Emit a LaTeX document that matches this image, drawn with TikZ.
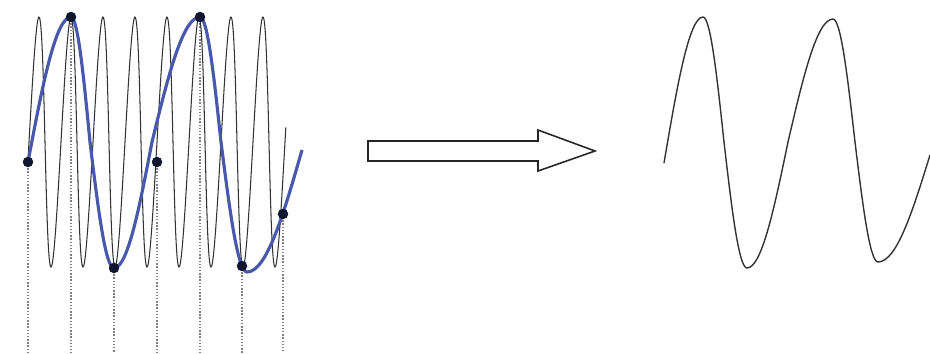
\documentclass[tikz,border=0pt]{standalone}
\definecolor{aliasblue}{RGB}{72,88,170}
\definecolor{dotnavy}{RGB}{16,22,48}

\begin{document}
\begin{tikzpicture}[
  x=0.02cm, y=-0.02cm,
  signal/.style={draw=black!80, line width=0.6pt},
  alias/.style={draw=aliasblue, line width=1.8pt},
  sample/.style={circle, fill=dotnavy, inner sep=0pt, minimum size=2.1mm},
  guide/.style={draw=black!50, densely dotted, line width=0.8pt},
  hollow/.style={draw=black!85, line width=0.9pt, fill=white, line join=miter}
]
  \useasboundingbox (0,0) rectangle (930,353);

  % sampling instants
  \foreach \i/\x/\y in {1/28/162, 2/71/17, 3/114/268, 4/157/162, 5/200/17, 6/242/266, 7/283/214} {
    \coordinate (p\i) at (\x,\y);
    \coordinate (g\i) at (\x,353);
    \draw[guide] (p\i) -- (g\i);
  }

  % fast signal
  \draw[signal] plot[domain=28.2:285.6, samples=500, variable=\u]
    ({\u+2*cos(11.25*(\u-37))}, {142-125*cos(11.25*(\u-37))});

  % alias seen through the samples
  \draw[alias] (28,162) sin (71,17) cos (90,142) sin (114,268) cos (152,142)
    sin (200,17) cos (221,142) sin (247,272) cos (302,150);

  \foreach \i in {1,...,7}
    \node[sample] (s\i) at (p\i) {};

  % hollow arrow
  \draw[hollow] (368,141) -- (538,141) -- (538,130) -- (595,151)
    -- (538,171) -- (538,161) -- (368,161) -- cycle;

  % reconstructed signal
  \draw[signal, line width=0.8pt] (664,163) sin (703,17) cos (724,142) sin (747,268)
    cos (788,142) sin (833,19) cos (855,142) sin (878,262) cos (930,155);
\end{tikzpicture}
\end{document}
